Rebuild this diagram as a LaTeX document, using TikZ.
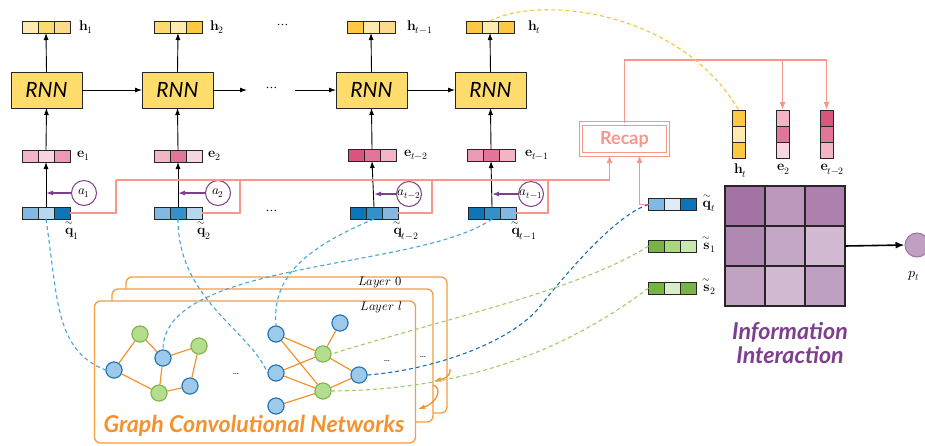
\documentclass[tikz,border=0pt]{standalone}
\usepackage{fontspec}
\usepackage{unicode-math}
\setmathfont{Latin Modern Math}
\newfontfamily\lato{Lato}
\usetikzlibrary{arrows.meta,calc}
\newcommand\tildeover[1]{\overset{\sim}{#1}}
\definecolor{yL}{HTML}{FFEBB0}
\definecolor{yM}{HTML}{FFDA70}
\definecolor{yD}{HTML}{FFC843}
\definecolor{yP}{HTML}{FFDA8C}
\definecolor{rnnfill}{HTML}{FFDC6B}
\definecolor{pL}{HTML}{F9D5DF}
\definecolor{pM}{HTML}{F3B4C6}
\definecolor{pMD}{HTML}{EC9AB3}
\definecolor{pD}{HTML}{E17699}
\definecolor{pDD}{HTML}{D9577F}
\definecolor{bVL}{HTML}{DCEBF7}
\definecolor{bL}{HTML}{B7D7EF}
\definecolor{bM}{HTML}{82B8E2}
\definecolor{bMD}{HTML}{3490C9}
\definecolor{bD}{HTML}{0B75B6}
\definecolor{gD}{HTML}{78B346}
\definecolor{gM}{HTML}{A8D77C}
\definecolor{gL}{HTML}{C9E7B0}
\definecolor{gVL}{HTML}{D8EEC8}
\definecolor{sal}{HTML}{F7968B}
\definecolor{purp}{HTML}{7E3F8E}
\definecolor{orng}{HTML}{F3922E}
\definecolor{dashblue}{HTML}{45A6DC}
\definecolor{dashdblue}{HTML}{1C6FB0}
\definecolor{dashgreen}{HTML}{9ACF6A}
\definecolor{dashyellow}{HTML}{F9C23C}
\definecolor{nbfill}{HTML}{9DC9EB}
\definecolor{nbdraw}{HTML}{2475B5}
\definecolor{ngfill}{HTML}{B4DD8E}
\definecolor{ngdraw}{HTML}{7DB84C}
\definecolor{ma}{HTML}{A373A3}
\definecolor{mb}{HTML}{BB98BB}
\definecolor{mc}{HTML}{AE80AE}
\definecolor{md}{HTML}{B089B3}
\definecolor{me}{HTML}{C4A7C6}
\definecolor{mf}{HTML}{D2BAD2}
\definecolor{mg}{HTML}{C1A2C3}
\definecolor{mh}{HTML}{D2BBD2}
\definecolor{mi}{HTML}{C0A0C2}
\definecolor{ptfill}{HTML}{C0A0C2}
\definecolor{ptdraw}{HTML}{A070A8}

\newcommand\HVec[6]{%
  \node[cell,fill=#4] (#1-1) at (#2-16,#3) {};
  \node[cell,fill=#5] (#1-2) at (#2,#3) {};
  \node[cell,fill=#6] (#1-3) at (#2+16,#3) {};
  \node[inner sep=0pt,outer sep=0pt,minimum width=48pt,minimum height=12pt] (#1) at (#2,#3) {};
}
\newcommand\VVec[6]{%
  \node[vcell,fill=#4] (#1-1) at (#2,#3-16) {};
  \node[vcell,fill=#5] (#1-2) at (#2,#3) {};
  \node[vcell,fill=#6] (#1-3) at (#2,#3+16) {};
  \node[inner sep=0pt,outer sep=0pt,minimum width=13pt,minimum height=48pt] (#1) at (#2,#3) {};
}

\begin{document}
\begin{tikzpicture}[x=1pt,y=-1pt,
  cell/.style={draw=black!85,line width=1pt,inner sep=0pt,outer sep=0pt,minimum width=16pt,minimum height=12pt},
  vcell/.style={draw=black!85,line width=1pt,inner sep=0pt,outer sep=0pt,minimum width=13pt,minimum height=16pt},
  mcell/.style={draw=black!85,line width=1.2pt,inner sep=0pt,outer sep=0pt,minimum size=40pt},
  rnnbox/.style={draw=black!85,line width=1pt,fill=rnnfill,minimum width=71pt,minimum height=36pt,inner sep=0pt,outer sep=0pt,font=\lato\itshape\fontsize{21}{21}\selectfont},
  lbl/.style={inner sep=1pt,font=\fontsize{14}{16}\selectfont},
  barrow/.style={-{Latex[length=7pt,width=5pt]},line width=0.9pt,black},
  parrow/.style={-{Latex[length=7pt,width=5pt]},line width=1.3pt,purp},
  acirc/.style={circle,draw=purp,line width=1pt,fill=white,minimum size=25pt,inner sep=0pt},
  atext/.style={inner sep=0pt,font=\fontsize{13}{15}\selectfont},
  salline/.style={draw=sal,line width=1.3pt},
  salarrow/.style={draw=sal,line width=1.3pt,-{Latex[length=8pt,width=6pt]}},
  recapbox/.style={draw=sal,double=white,double distance=2.5pt,line width=1.2pt,minimum width=87pt,minimum height=31pt,inner sep=0pt,text=sal,font=\lato\bfseries\fontsize{18}{18}\selectfont},
  panel/.style={draw=orng!90,line width=1.3pt,fill=white,rounded corners=6pt,minimum width=321pt,inner sep=0pt},
  gnb/.style={circle,draw=nbdraw,fill=nbfill,line width=1pt,minimum size=16pt,inner sep=0pt},
  gng/.style={circle,draw=ngdraw,fill=ngfill,line width=1pt,minimum size=16pt,inner sep=0pt},
  gedge/.style={draw=orng,line width=1.2pt},
  oarrow/.style={draw=orng,line width=1.3pt,-{Latex[length=7pt,width=5pt]}},
  bdash/.style={draw=dashblue,line width=1.1pt,dash pattern=on 4pt off 3pt},
  dbdash/.style={draw=dashdblue,line width=1.1pt,dash pattern=on 4pt off 3pt},
  gdash/.style={draw=dashgreen,line width=1.1pt,dash pattern=on 4pt off 3pt},
  ydash/.style={draw=dashyellow,line width=1.1pt,dash pattern=on 4pt off 3pt},
  dots/.style={inner sep=0pt,font=\fontsize{14}{16}\selectfont},
  smalldots/.style={inner sep=0pt,font=\fontsize{10}{12}\selectfont},
  layerlbl/.style={inner sep=1pt,anchor=east,font=\fontsize{12.5}{15}\selectfont}
]
\useasboundingbox (0,0) rectangle (925,445);

% ---------- GCN panels ----------
\node[panel,minimum height=136pt] (L0) at (286.5,345) {};
\node[layerlbl] (L0lbl) at (403,283) {$Layer\ 0$};
\node[panel,minimum height=133pt] (L1) at (272.5,355.5) {};
\node[panel,minimum height=142pt] (L2) at (255,372) {};
\node[layerlbl] (L2lbl) at (403,307) {$Layer\ l$};
\node[text=orng,inner sep=0pt,font=\lato\bfseries\itshape\fontsize{23.2}{26}\selectfont] (gcn) at (254,426) {Graph Convolutional Networks};

% graph nodes
\node[gnb] (B1) at (114,370) {};
\node[gng] (G1) at (140,334) {};
\node[gnb] (B2) at (163,358) {};
\node[gng] (G2) at (199,346) {};
\node[gng] (G3) at (159,393) {};
\node[gnb] (B3) at (190,386) {};
\node[gnb] (R1) at (276,334) {};
\node[gnb] (R2) at (276,373) {};
\node[gnb] (R3) at (276,406) {};
\node[gnb] (R4) at (340,323) {};
\node[gng] (G4) at (323,354) {};
\node[gng] (G5) at (323,391) {};
\node[gnb] (R5) at (359,375) {};
\draw[gedge] (B1) -- (G1) (B1) -- (G3) (G1) -- (B2) (B2) -- (G2) (B2) -- (G3) (G3) -- (B3) (B3) -- (G2);
\draw[gedge] (R1) -- (G4) (R1) -- (G5) (R2) -- (G4) (R2) -- (G5) (R3) -- (G5) (G4) -- (R4) (G4) -- (R5) (G5) -- (R5);
\foreach \n/\s in {B1/gnb,G1/gng,B2/gnb,G2/gng,G3/gng,B3/gnb,R1/gnb,R2/gnb,R3/gnb,R4/gnb,G4/gng,G5/gng,R5/gnb}{
  \node[\s] at (\n) {};
}
\node[smalldots] (gd1) at (236,374) {\ldots};
\node[smalldots] (gd2) at (387,361) {\ldots};
\node[smalldots] (gd3) at (423,357) {\ldots};

\coordinate (o1s) at (450,369);
\coordinate (o1e) at (434,381);
\coordinate (o2s) at (433,385);
\coordinate (o2e) at (418,409);
\draw[oarrow] (o1s) .. controls (451,377) and (443,379) .. (o1e);
\draw[oarrow] (o2s) .. controls (443,388) and (437,403) .. (o2e);

% ---------- top row ----------
\HVec{h1}{46}{27}{yL}{yM}{yP}
\HVec{h2}{178}{27}{yM}{yL}{yD}
\HVec{h3}{371}{27}{yD}{yL}{yP}
\HVec{h4}{490}{27}{yD}{yL}{yD}
\node[lbl,anchor=west] (h1l) at ([xshift=8pt]h1.east) {$\mathbf{h}_1$};
\node[lbl,anchor=west] (h2l) at ([xshift=7pt]h2.east) {$\mathbf{h}_2$};
\node[lbl,anchor=west] (h3l) at ([xshift=11pt]h3.east) {$\mathbf{h}_{t-1}$};
\node[lbl,anchor=west] (h4l) at ([xshift=13pt]h4.east) {$\mathbf{h}_t$};
\node[dots] (hdots) at (283,26) {$\cdots$};

\node[rnnbox] (r1) at (46.5,90) {RNN};
\node[rnnbox] (r2) at (177.5,90) {RNN};
\node[rnnbox] (r3) at (371.5,90) {RNN};
\node[rnnbox] (r4) at (490.5,90) {RNN};
\coordinate (rd1) at (247,90);
\coordinate (rd2) at (295,90);
\node[dots] (rdots) at (272,89) {$\cdots$};
\draw[barrow] (r1.east) -- (r2.west);
\draw[barrow] (r2.east) -- (rd1);
\draw[barrow] (rd2) -- (r3.west);
\draw[barrow] (r3.east) -- (r4.west);

\HVec{e1}{46}{156}{pM}{pL}{pMD}
\HVec{e2}{178}{156}{pM}{pD}{pL}
\HVec{e3}{372}{155}{pDD}{pD}{pM}
\HVec{e4}{491}{155}{pMD}{pD}{pM}
\node[lbl,anchor=west] (e1l) at ([xshift=6pt]e1.east) {$\mathbf{e}_1$};
\node[lbl,anchor=west] (e2l) at ([xshift=5pt]e2.east) {$\mathbf{e}_2$};
\node[lbl,anchor=west] (e3l) at ([xshift=7pt]e3.east) {$\mathbf{e}_{t-2}$};
\node[lbl,anchor=west] (e4l) at ([xshift=9pt]e4.east) {$\mathbf{e}_{t-1}$};

\HVec{q1}{46}{213}{bM}{bL}{bD}
\HVec{q2}{178}{213}{bM}{bMD}{bL}
\HVec{q3}{374}{213}{bD}{bMD}{bM}
\HVec{q4}{492}{213}{bD}{bMD}{bM}
\node[lbl,anchor=north,inner sep=0pt] (q1l) at ([xshift=2pt,yshift=-1pt]q1.south east) {$\tildeover{\mathbf{q}}_1$};
\node[lbl,anchor=north,inner sep=0pt] (q2l) at ([xshift=2pt,yshift=-1pt]q2.south east) {$\tildeover{\mathbf{q}}_2$};
\node[lbl,anchor=north,inner sep=0pt] (q3l) at ([xshift=8pt,yshift=-1pt]q3.south east) {$\tildeover{\mathbf{q}}_{t-2}$};
\node[lbl,anchor=north,inner sep=0pt] (q4l) at ([xshift=8pt,yshift=-1pt]q4.south east) {$\tildeover{\mathbf{q}}_{t-1}$};
\node[dots] (qdots) at (272,212) {$\cdots$};

% vertical arrows
\foreach \i in {1,2,3,4}{
  \draw[barrow] (q\i.north) -- (e\i.south);
  \draw[barrow] (e\i.north) -- (r\i.south);
  \draw[barrow] (r\i.north) -- (h\i.south);
}

% attention circles
\node[acirc] (a1) at (84,193) {};
\node[acirc] (a2) at (218,193) {};
\node[acirc] (a3) at (409,194) {};
\node[acirc] (a4) at (531,194) {};
\node[atext] (a1t) at (a1) {$a_1$};
\node[atext] (a2t) at (a2) {$a_2$};
\node[atext] (a3t) at (a3) {$a_{t-2}$};
\node[atext] (a4t) at (a4) {$a_{t-1}$};
\foreach \i in {1,2,3,4}{
  \draw[parrow] (a\i.west) -- (a\i.west -| q\i.north);
}

% ---------- Recap ----------
\node[recapbox] (rc) at (624.5,139) {Recap};
\coordinate (s1) at (116,180);
\coordinate (s2) at (240,180);
\coordinate (s3) at (432,180);
\coordinate (s4) at (548,180);
\draw[salline] (q1.east) -| (s1);
\draw[salline] (q2.east) -| (s2);
\draw[salline] (q3.east) -| (s3);
\draw[salline] (q4.east) -| (s4);
\draw[salarrow] (s1) -| ([xshift=-15pt]rc.south);

\HVec{qt}{672.5}{204.5}{bM}{bVL}{bD}
\HVec{st1}{672.5}{246}{gD}{gM}{gL}
\HVec{st2}{672.5}{288}{gD}{gVL}{gD}
\node[lbl,anchor=west] (qtl) at ([xshift=5pt,yshift=2pt]qt.east) {$\tildeover{\mathbf{q}}_t$};
\node[lbl,anchor=west] (st1l) at ([xshift=5pt,yshift=2pt]st1.east) {$\tildeover{\mathbf{s}}_1$};
\node[lbl,anchor=west] (st2l) at ([xshift=5pt,yshift=2pt]st2.east) {$\tildeover{\mathbf{s}}_2$};
\draw[salarrow] (qt.west) -| ([xshift=15pt]rc.south);

\VVec{hv}{738.5}{134}{yD}{yL}{yD}
\VVec{ev2}{782.5}{134}{pM}{pD}{pL}
\VVec{ev3}{826.5}{134}{pDD}{pD}{pM}
\node[lbl,anchor=north] (hvl) at ([xshift=2pt,yshift=-5pt]hv.south) {$\mathbf{h}_t$};
\node[lbl,anchor=north] (ev2l) at ([xshift=1pt,yshift=-5pt]ev2.south) {$\mathbf{e}_2$};
\node[lbl,anchor=north] (ev3l) at ([xshift=6pt,yshift=-5pt]ev3.south) {$\mathbf{e}_{t-2}$};

\coordinate (rt) at (0,60);
\draw[salarrow] (rc.north) |- (ev3.north |- rt) -- (ev3.north);
\draw[salarrow] (ev2.north |- rt) -- (ev2.north);

\draw[ydash] (h4.north) .. controls (540,-5) and (680,10) .. (hv.north);

% ---------- matrix ----------
\node[mcell,fill=ma] (m11) at (745,206) {};
\node[mcell,fill=mb] (m12) at (785,206) {};
\node[mcell,fill=mc] (m13) at (825,206) {};
\node[mcell,fill=md] (m21) at (745,246) {};
\node[mcell,fill=me] (m22) at (785,246) {};
\node[mcell,fill=mf] (m23) at (825,246) {};
\node[mcell,fill=mg] (m31) at (745,286) {};
\node[mcell,fill=mh] (m32) at (785,286) {};
\node[mcell,fill=mi] (m33) at (825,286) {};
\node[inner sep=0pt,outer sep=0pt,minimum size=120pt] (mat) at (785,246) {};
\node[circle,draw=ptdraw,fill=ptfill,line width=1pt,minimum size=24pt,inner sep=0pt] (pt) at (917,245) {};
\node[lbl] (ptl) at (914,276) {$p_t$};
\draw[-{Latex[length=9pt,width=7pt]},line width=1.6pt,black] (mat.east) -- (pt.west);
\node[text=purp,align=center,inner sep=0pt,font=\lato\bfseries\itshape\fontsize{23.2}{24}\selectfont] (info) at (790,343) {Information\\Interaction};

% ---------- dashed links ----------
\draw[bdash] (q1.south) .. controls (58,300) and (55,350) .. (B1.west);
\draw[bdash] (q2.south) .. controls (178,300) and (250,330) .. (R2.west);
\draw[bdash] (q3.south) .. controls (300,250) and (272,280) .. (R1.north);
\draw[bdash] (q4.south) .. controls (420,270) and (163,260) .. (B2.north);
\coordinate (dbm) at (537,310);
\draw[dbdash] (qt.west) .. controls (615,215) and (565,275) .. (dbm) .. controls (505,345) and (430,370) .. (R5.east);
\draw[gdash] (st1.west) .. controls (580,290) and (440,320) .. (G4.east);
\draw[gdash] (st2.west) .. controls (580,340) and (480,390) .. (G5.east);
\end{tikzpicture}
\end{document}
